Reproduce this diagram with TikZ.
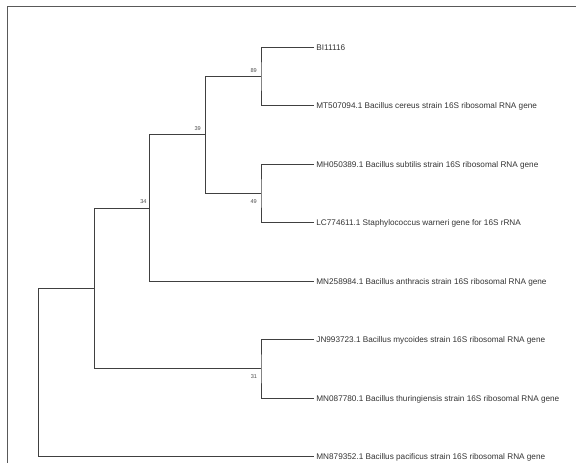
\documentclass[tikz,border=0pt]{standalone}
\usepackage{fontspec}
\setmainfont{Liberation Sans}
\usetikzlibrary{positioning}

\begin{document}
\begin{tikzpicture}[x=1pt,y=-1pt,
    taxon/.style={anchor=west,inner sep=2.2pt,font=\fontsize{8.2}{9}\selectfont,text=black!80,text height=5.9pt,text depth=0pt},
    boot/.style={inner sep=0pt,font=\fontsize{5.6}{6}\selectfont,text=black!70},
    branch/.style={draw=black!75,line width=0.9pt}]
  \useasboundingbox (0,0) rectangle (576,463);
  \draw[black!65,line width=0.9pt] (7.3,463) -- (7.3,6) -- (576,6);
  \foreach \i/\txt in {1/BI11116,
      2/MT507094.1 Bacillus cereus strain 16S ribosomal RNA gene,
      3/MH050389.1 Bacillus subtilis strain 16S ribosomal RNA gene,
      4/LC774611.1 Staphylococcus warneri gene for 16S rRNA,
      5/MN258984.1 Bacillus anthracis strain 16S ribosomal RNA gene,
      6/JN993723.1 Bacillus mycoides strain 16S ribosomal RNA gene,
      7/MN087780.1 Bacillus thuringiensis strain 16S ribosomal RNA gene,
      8/MN879352.1 Bacillus pacificus strain 16S ribosomal RNA gene}
    \path (314,{47.3+58.5*(\i-1)}) coordinate (t\i) node[taxon] (l\i) {\txt};
  \coordinate (n89) at (261,76.3);
  \coordinate (n49) at (261,193.3);
  \coordinate (n39) at (205.7,134.8);
  \coordinate (n34) at (149.7,208);
  \coordinate (n31) at (261,368.8);
  \coordinate (n95) at (94.3,288.4);
  \coordinate (root) at (38.7,372.6);
  \draw[branch] (t1) -| (n89) |- (t2);
  \draw[branch] (t3) -| (n49) |- (t4);
  \draw[branch] (n89) -| (n39) |- (n49);
  \draw[branch] (n39) -| (n34) |- (t5);
  \draw[branch] (t6) -| (n31) |- (t7);
  \draw[branch] (n34) -| (n95) |- (n31);
  \draw[branch] (n95) -| (root) |- (t8);
  \node[boot,left=4pt of n89,yshift=5.8pt] (b89) {89};
  \node[boot,left=4.7pt of n39,yshift=6.3pt] (b39) {39};
  \node[boot,left=3pt of n34,yshift=6.5pt] (b34) {34};
  \node[boot,left=4pt of n49,yshift=-8.2pt] (b49) {49};
  \node[boot,left=3.7pt of n31,yshift=-7.8pt] (b31) {31};
\end{tikzpicture}
\end{document}
